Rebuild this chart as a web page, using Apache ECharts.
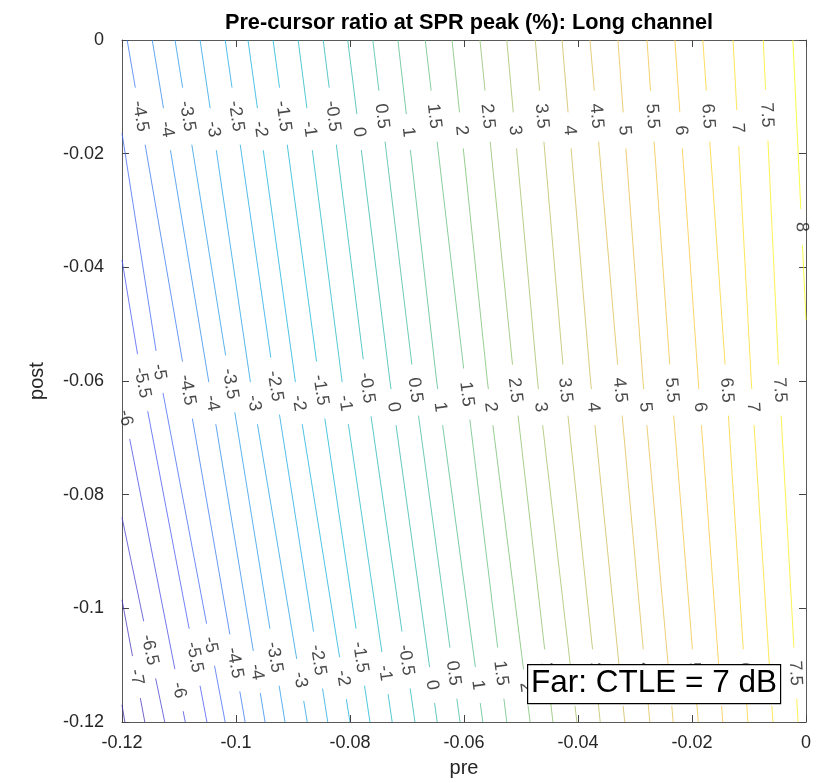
<!DOCTYPE html>
<html>
<head>
<meta charset="utf-8">
<title>Pre-cursor ratio at SPR peak</title>
<script src="https://cdn.jsdelivr.net/npm/echarts@6/dist/echarts.min.js"></script>
<style>
  html, body { margin: 0; padding: 0; background: #fff; }
  #chart { width: 821px; height: 783px; }
</style>
</head>
<body>
<div id="chart"></div>
<script>
// contour levels (%), one line each
const levels = [-7.5, -7, -6.5, -6, -5.5, -5, -4.5, -4, -3.5, -3, -2.5, -2, -1.5, -1, -0.5, 0,
  0.5, 1, 1.5, 2, 2.5, 3, 3.5, 4, 4.5, 5, 5.5, 6, 6.5, 7, 7.5, 8];

// pre value where each contour crosses post = 0, -0.06 and -0.12 (null: line not there)
const preTop = [null, null, null, null, null, null, -0.1191, -0.1147, -0.1107, -0.1063, -0.1019, -0.0979,
  -0.0935, -0.0891, -0.0847, -0.0804, -0.0760, -0.0716, -0.0668, -0.0621, -0.0572, -0.0525, -0.0475,
  -0.0428, -0.0379, -0.0330, -0.0279, -0.0230, -0.0181, -0.0128, -0.0075, -0.0023];
const preMid = [null, null, null, null, -0.1165, -0.1132, -0.1088, -0.1048, -0.1011, -0.0975, -0.0933, -0.0896,
  -0.0854, -0.0814, -0.0772, -0.0730, -0.0688, -0.0648, -0.0598, -0.0559, -0.0512, -0.0471, -0.0424,
  -0.0378, -0.0328, -0.0286, -0.0237, -0.0189, -0.0140, -0.0096, -0.0047, null];
const preBottom = [-0.1195, -0.1160, -0.1125, -0.1089, -0.1051, -0.1019, -0.0984, -0.0949, -0.0914, -0.0875,
  -0.0839, -0.0800, -0.0765, -0.0726, -0.0686, -0.0647, -0.0607, -0.0567, -0.0525, -0.0484, -0.0444,
  -0.0402, -0.0361, -0.0318, -0.0274, -0.0233, -0.0189, -0.0146, -0.0102, -0.0058, -0.0014, null];

// where a contour meets the left / right edge of the box
const edgePre = [-0.12, -0.12, -0.12, -0.12, -0.12, -0.12, null, null, null, null, null, null, null, null,
  null, null, null, null, null, null, null, null, null, null, null, null, null, null, null, null, null, 0];
const edgePost = [-0.1170, -0.0985, -0.0840, -0.0633, -0.0387, -0.0164, null, null, null, null, null, null,
  null, null, null, null, null, null, null, null, null, null, null, null, null, null, null, null, null,
  null, null, -0.0493];

// post value of the inline label on each contour, three rows of labels
const labelPostTop = [null, null, null, null, null, null, -0.0134, -0.0157, -0.0134, -0.0157, -0.0134, -0.0157,
  -0.0134, -0.0157, -0.0134, -0.0162, -0.0134, -0.0162, -0.0134, -0.0159, -0.0134, -0.0159, -0.0134,
  -0.0159, -0.0134, -0.0159, -0.0134, -0.0159, -0.0134, -0.0155, -0.0132, -0.0329];
const labelPostMid = [null, null, null, -0.0665, -0.0603, -0.0584, -0.0616, -0.0639, -0.0605, -0.0639, -0.0609,
  -0.0639, -0.0616, -0.0639, -0.0612, -0.0646, -0.0616, -0.0646, -0.0623, -0.0646, -0.0616, -0.0646,
  -0.0616, -0.0646, -0.0616, -0.0646, -0.0616, -0.0646, -0.0616, -0.0646, -0.0616, null];
const labelPostBottom = [null, -0.1121, -0.1073, -0.1144, -0.1086, -0.1064, -0.1096, -0.1112, -0.1086, -0.1126,
  -0.1091, -0.1123, -0.1086, -0.1114, -0.1091, -0.1135, -0.1114, -0.1135, -0.1114, -0.1139, -0.1117,
  -0.1140, -0.1117, -0.1140, -0.1117, -0.1140, -0.1117, -0.1140, -0.1117, -0.1140, -0.1114, null];

// tick values of the pre axis (also drawn as inward marks on top and bottom of the box)
const preTicks = [-0.12, -0.1, -0.08, -0.06, -0.04, -0.02, 0];

const parulaStops = ['#3E26A8', '#4752F5', '#2796EB', '#10B4D9', '#33B8A1', '#7DBF69', '#D4BA54', '#FCC539', '#F9FB0E'];

const FONT = '"Liberation Sans", Arial, Helvetica, sans-serif';
const LABEL_SIZE = 18;
const PX_PER_UNIT = 682 / 0.12;

function hexRgb(h) {
  return [1, 3, 5].map(k => parseInt(h.substr(k, 2), 16));
}
function parula(t) {
  const n = parulaStops.length - 1;
  const s = Math.min(n - 1e-9, Math.max(0, t * n));
  const k = Math.floor(s), f = s - k;
  const a = hexRgb(parulaStops[k]), b = hexRgb(parulaStops[k + 1]);
  return 'rgb(' + a.map((v, j) => Math.round(v + (b[j] - v) * f)).join(',') + ')';
}

function pathFor(i) {
  const pts = [];
  if (preTop[i] != null) pts.push([preTop[i], 0]);
  if (edgePost[i] != null) pts.push([edgePre[i], edgePost[i]]);
  if (preMid[i] != null) pts.push([preMid[i], -0.06]);
  if (preBottom[i] != null) pts.push([preBottom[i], -0.12]);
  return pts.sort((a, b) => b[1] - a[1]);
}

// point of the drawn polyline at a given post, and the segment it sits on
function onPath(path, q) {
  for (let k = 0; k < path.length - 1; k++) {
    const a = path[k], b = path[k + 1];
    if (q <= a[1] && q >= b[1]) {
      const t = (a[1] - q) / (a[1] - b[1]);
      return { pt: [a[0] + t * (b[0] - a[0]), q], a, b };
    }
  }
  return null;
}

const ctx = document.createElement('canvas').getContext('2d');
ctx.font = LABEL_SIZE + 'px ' + FONT;

const lineSeries = [];
const labelData = [];
const lo = levels[0], hi = levels[levels.length - 1];

levels.forEach((lev, i) => {
  const path = pathFor(i);
  if (path.length < 2) return;
  const text = String(lev);
  const half = (ctx.measureText(text).width / 2 + 13) / PX_PER_UNIT;
  const cuts = [];
  [labelPostTop, labelPostMid, labelPostBottom].forEach(row => {
    const q = row[i];
    if (q == null) return;
    const hit = onPath(path, q);
    if (!hit) return;
    const dx = hit.b[0] - hit.a[0], dy = hit.a[1] - hit.b[1];
    const ang = Math.atan2(dx, dy) * 180 / Math.PI;
    labelData.push({ value: hit.pt, name: text, label: { rotate: -90 + ang } });
    cuts.push([q + half, q - half]);
  });

  // split the line round its labels
  const top = path[0][1], bottom = path[path.length - 1][1];
  const pieces = [];
  let cur = top;
  cuts.sort((a, b) => b[0] - a[0]).forEach(c => {
    if (c[0] < cur) pieces.push([cur, Math.max(c[0], bottom)]);
    cur = Math.min(cur, c[1]);
  });
  if (cur > bottom) pieces.push([cur, bottom]);

  const data = [];
  pieces.forEach(p => {
    if (p[0] <= p[1]) return;
    if (data.length) data.push(['-', '-']);
    data.push(onPath(path, p[0]).pt);
    path.forEach(v => { if (v[1] < p[0] && v[1] > p[1]) data.push(v); });
    data.push(onPath(path, p[1]).pt);
  });

  lineSeries.push({
    type: 'line',
    name: text,
    data: data,
    showSymbol: false,
    connectNulls: false,
    silent: true,
    animation: false,
    lineStyle: { color: parula((lev - lo) / (hi - lo)), width: 1, opacity: 0.75 },
    z: 2
  });
});

const axisColor = '#5a5a5a';
const lineStyleAxis = { show: true, onZero: false, lineStyle: { color: axisColor } };
const tickStyle = { show: true, inside: true, length: 7, lineStyle: { color: '#444', width: 1 } };

const chart = echarts.init(document.getElementById('chart'), null, { renderer: 'canvas' });
chart.setOption({
  animation: false,
  backgroundColor: '#fff',
  textStyle: { fontFamily: FONT },
  title: {
    text: 'Pre-cursor ratio at SPR peak (%): Long channel',
    left: 464,
    textAlign: 'center',
    top: 7,
    textStyle: { fontSize: 21.7, fontWeight: 'bold', color: '#000', fontFamily: FONT }
  },
  grid: { left: 122, right: 15, top: 40, bottom: 61, containLabel: false, outerBoundsMode: 'none' },
  xAxis: [{
    type: 'value', min: -0.12, max: 0, interval: 0.02, position: 'bottom',
    name: 'pre', nameLocation: 'middle', nameGap: 36,
    nameTextStyle: { fontSize: 20, color: '#262626', fontFamily: FONT },
    axisLine: lineStyleAxis,
    axisTick: tickStyle,
    axisLabel: { fontSize: 18, color: '#262626', margin: 12, fontFamily: FONT },
    splitLine: { show: false }
  }, {
    type: 'value', min: -0.12, max: 0, interval: 0.02, position: 'top',
    axisLine: lineStyleAxis,
    axisTick: tickStyle,
    axisLabel: { show: false },
    splitLine: { show: false }
  }],
  yAxis: [{
    type: 'value', min: -0.12, max: 0, interval: 0.02, position: 'left',
    name: 'post', nameLocation: 'middle', nameGap: 75, nameRotate: 90,
    nameTextStyle: { fontSize: 20, color: '#262626', fontFamily: FONT },
    axisLine: lineStyleAxis,
    axisTick: tickStyle,
    axisLabel: { fontSize: 18, color: '#262626', margin: 18, fontFamily: FONT },
    splitLine: { show: false }
  }, {
    type: 'value', min: -0.12, max: 0, interval: 0.02, position: 'right',
    axisLine: lineStyleAxis,
    axisTick: tickStyle,
    axisLabel: { show: false },
    splitLine: { show: false }
  }],
  series: lineSeries.concat([{
    type: 'scatter',
    name: 'labels',
    data: labelData,
    symbolSize: 1,
    itemStyle: { color: 'rgba(0,0,0,0)' },
    silent: true,
    animation: false,
    clip: false,
    z: 3,
    label: {
      show: true,
      position: 'inside',
      formatter: '{b}',
      fontSize: LABEL_SIZE,
      color: '#1a1a1a',
      fontFamily: FONT,
      align: 'center',
      verticalAlign: 'middle'
    }
  }])
});

// inward tick marks on the top and bottom edges, placed through the x scale
const yTop = chart.convertToPixel({ yAxisIndex: 0 }, 0);
const yBot = chart.convertToPixel({ yAxisIndex: 0 }, -0.12);
const tickMarks = [];
preTicks.forEach((v, n) => {
  const x = Math.round(chart.convertToPixel({ xAxisIndex: 0 }, v)) + 0.5;
  [[yBot, yBot - 7], [yTop, yTop + 7]].forEach((ys, m) => {
    tickMarks.push({
      type: 'line',
      id: 'tick' + n + '_' + m,
      silent: true,
      z: 50,
      shape: { x1: x, y1: ys[0], x2: x, y2: ys[1] },
      style: { stroke: '#444', lineWidth: 1 }
    });
  });
});

chart.setOption({
  graphic: tickMarks.concat([{
    type: 'rect',
    id: 'box',
    left: 527,
    top: 664,
    z: 100,
    zlevel: 1,
    shape: { width: 253, height: 39 },
    style: { fill: '#fff', stroke: '#000', lineWidth: 1.2 }
  }, {
    type: 'text',
    id: 'boxText',
    left: 531,
    top: 667,
    z: 101,
    zlevel: 1,
    style: {
      text: 'Far: CTLE = 7 dB',
      fontSize: 31.5,
      fontFamily: FONT,
      fill: '#000'
    }
  }])
});
</script>
</body>
</html>
